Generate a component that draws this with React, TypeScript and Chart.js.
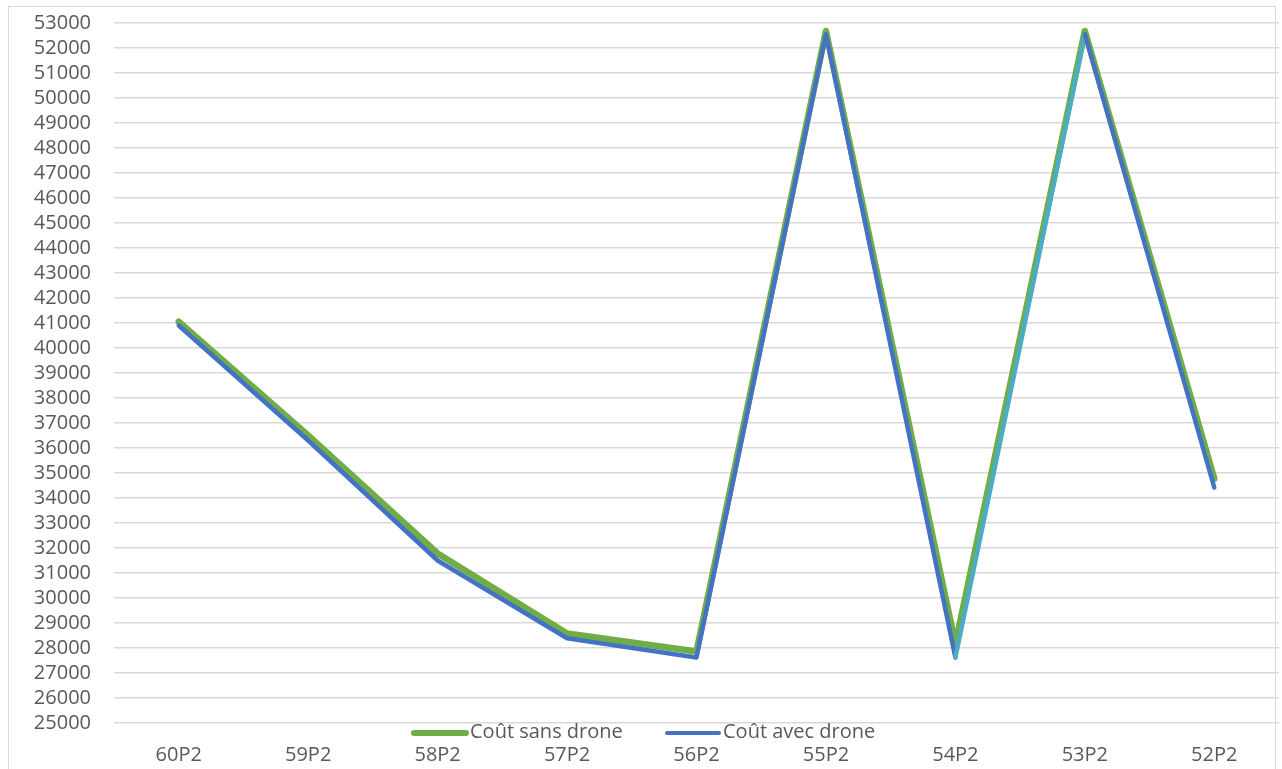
import React, { useEffect, useRef } from "react";
import { Chart, registerables } from "chart.js";

Chart.register(...registerables);

const categories = ["60P2", "59P2", "58P2", "57P2", "56P2", "55P2", "54P2", "53P2", "52P2"];
const coutSansDrone = [41050, 36500, 31780, 28580, 27860, 52680, 28150, 52680, 34770];
const coutAvecDrone = [40900, 36300, 31500, 28390, 27620, 52550, 27620, 52550, 34420];
const seriesLabels = ["Coût sans drone", "Coût avec drone"];
const yMin = 25000;
const yMax = 53000;
const yStep = 1000;

const GREEN = "#70AD47";
const BLUE = "#4472C4";
const TEAL = "#4BACC6";
const TEXT = "#595959";
const GRID = "#D9D9D9";
const FONT = "'Open Sans', sans-serif";

const customLegend = {
  id: "customLegend",
  afterDraw(chart: any) {
    const ctx = chart.ctx;
    const items = chart.data.datasets;
    const starts = [412, 665];
    const y = 745;
    ctx.save();
    ctx.font = `20px ${FONT}`;
    ctx.textBaseline = "middle";
    ctx.fillStyle = TEXT;
    items.forEach((ds: any, i: number) => {
      const x0 = starts[i];
      ctx.strokeStyle = ds.borderColor;
      ctx.lineWidth = i === 0 ? 6 : 4;
      ctx.lineCap = "round";
      ctx.beginPath();
      ctx.moveTo(x0 + 2, y);
      ctx.lineTo(x0 + 54, y);
      ctx.stroke();
      ctx.fillStyle = TEXT;
      ctx.textAlign = "left";
      ctx.fillText(ds.label, x0 + 58, y - 1);
    });
    ctx.restore();
  },
};

export default function App() {
  const ref = useRef<HTMLCanvasElement | null>(null);

  useEffect(() => {
    document.body.style.margin = "0";
    if (!ref.current) return;
    const chart = new Chart(ref.current, {
      type: "line",
      data: {
        labels: categories,
        datasets: [
          {
            label: seriesLabels[0],
            data: coutSansDrone,
            borderColor: GREEN,
            backgroundColor: GREEN,
            borderWidth: 6.5,
            pointRadius: 0,
            tension: 0,
            borderJoinStyle: "round",
            borderCapStyle: "round",
            order: 2,
          },
          {
            label: seriesLabels[1],
            data: coutAvecDrone,
            borderColor: BLUE,
            backgroundColor: BLUE,
            borderWidth: 4.5,
            pointRadius: 0,
            tension: 0,
            borderJoinStyle: "round",
            borderCapStyle: "round",
            order: 1,
            segment: {
              borderColor: (c: any) => (c.p0DataIndex === 6 ? TEAL : undefined),
            },
          },
        ],
      },
      options: {
        animation: false,
        responsive: false,
        maintainAspectRatio: false,
        layout: { padding: { top: 0, right: 3, bottom: 0, left: 0 } },
        plugins: {
          legend: { display: false },
          tooltip: { enabled: false },
        },
        scales: {
          x: {
            offset: true,
            grid: { display: false, drawTicks: false },
            border: { display: false },
            ticks: {
              color: TEXT,
              font: { family: FONT, size: 20 },
              padding: 20,
              maxRotation: 0,
              autoSkip: false,
            },
            afterFit: (s: any) => {
              s.height = 46;
            },
          },
          y: {
            min: yMin,
            max: yMax,
            grid: { color: GRID, lineWidth: 1.5, drawTicks: false },
            border: { display: false },
            ticks: {
              stepSize: yStep,
              autoSkip: false,
              color: TEXT,
              font: { family: FONT, size: 20 },
              padding: 23,
              callback: (v: any) => String(v),
            },
            afterFit: (s: any) => {
              s.width = 114;
            },
          },
        },
      },
      plugins: [customLegend],
    });
    return () => chart.destroy();
  }, []);

  return (
    <div style={{ position: "fixed", left: 0, top: 0, width: 1282, height: 769, background: "#fff", overflow: "hidden" }}>
      <div
        style={{
          position: "absolute",
          left: 8,
          top: 6,
          width: 1268,
          height: 800,
          border: "1px solid #D9D9D9",
          boxSizing: "border-box",
        }}
      />
      <canvas ref={ref} width={1282} height={781} style={{ position: "absolute", left: 0, top: -12 }} />
    </div>
  );
}
